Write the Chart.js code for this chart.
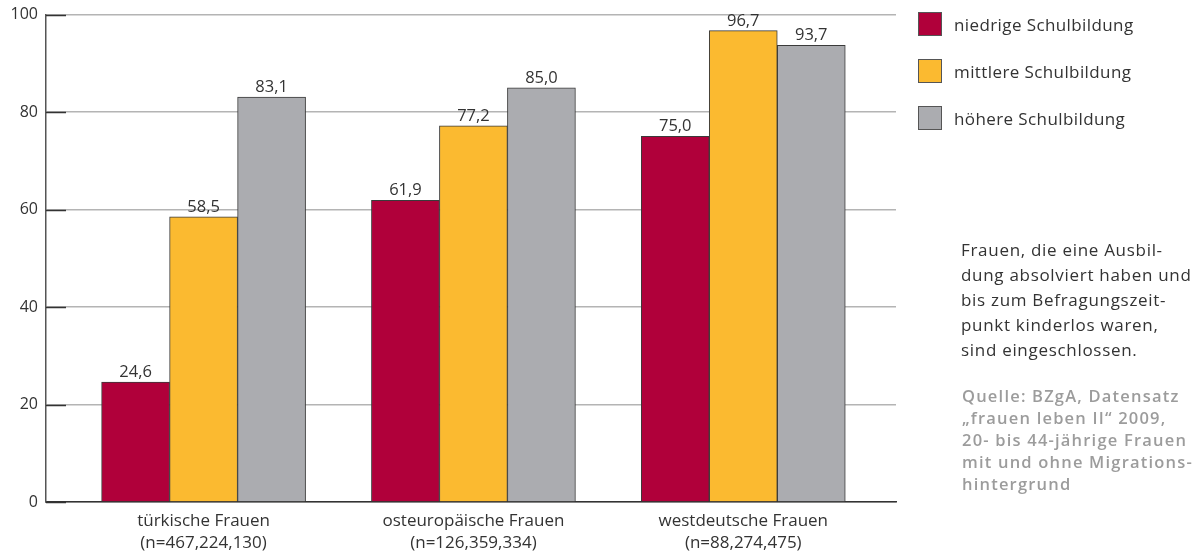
<!DOCTYPE html>
<html lang="de">
<head>
<meta charset="utf-8">
<script src="https://cdn.jsdelivr.net/npm/chart.js@4.4.1/dist/chart.umd.min.js"></script>
<style>
  html, body { margin: 0; padding: 0; background: #fff; }
  body { width: 1204px; height: 556px; position: relative; overflow: hidden; font-family: "Open Sans", sans-serif; color: #333; }
  #wrap { position: absolute; left: 0; top: -3px; width: 1204px; height: 559px; }
  #legend { position: absolute; left: 918px; top: 12px; }
  .item { display: flex; align-items: center; height: 24px; margin-bottom: 23px; font-size: 17px; letter-spacing: 0.4px; color: #333; }
  .swatch { width: 22px; height: 22px; border: 1px solid #555; margin-right: 12px; }
  #note { position: absolute; left: 961px; top: 237px; font-size: 17px; letter-spacing: 0.7px; line-height: 25px; color: #333; white-space: nowrap; }
  #source { position: absolute; left: 962px; top: 385px; font-size: 16.5px; letter-spacing: 1.2px; line-height: 22px; font-weight: 600; color: #9c9c9c; white-space: nowrap; }
</style>
</head>
<body>
<div id="wrap"><canvas id="chart" width="1204" height="559"></canvas></div>
<div id="legend"></div>
<div id="note">Frauen, die eine Ausbil-<br>dung absolviert haben und<br>bis zum Befragungszeit-<br>punkt kinderlos waren,<br>sind eingeschlossen.</div>
<div id="source">Quelle: BZgA, Datensatz<br>„frauen leben II“ 2009,<br>20- bis 44-jährige Frauen<br>mit und ohne Migrations-<br>hintergrund</div>
<script>
// Groups of women (two-line axis labels)
const groups = [
  ['türkische Frauen', '(n=467,224,130)'],
  ['osteuropäische Frauen', '(n=126,359,334)'],
  ['westdeutsche Frauen', '(n=88,274,475)']
];

// Share per school-education level, in percent
const niedrig = [24.6, 61.9, 75.0];
const mittel  = [58.5, 77.2, 96.7];
const hoeher  = [83.1, 85.0, 93.7];

const seriesNames  = ['niedrige Schulbildung', 'mittlere Schulbildung', 'höhere Schulbildung'];
const seriesColors = ['#B0003A', '#FBBA30', '#ABACB0'];

const yTicks = [0, 20, 40, 60, 80, 100];

const FONT = '"Open Sans", sans-serif';

// Legend
const legendEl = document.getElementById('legend');
seriesNames.forEach((name, i) => {
  const row = document.createElement('div');
  row.className = 'item';
  const sw = document.createElement('div');
  sw.className = 'swatch';
  sw.style.background = seriesColors[i];
  const tx = document.createElement('span');
  tx.textContent = name;
  row.appendChild(sw);
  row.appendChild(tx);
  legendEl.appendChild(row);
});

const seriesValues = [niedrig, mittel, hoeher];
const datasets = seriesValues.map((vals, i) => ({
  label: seriesNames[i],
  data: vals.map((v, j) => ({ x: j, y: v })),
  backgroundColor: seriesColors[i],
  borderColor: '#3a3a3a',
  borderWidth: 1,
  barThickness: 68
}));

// Values above bars, German decimal comma
const valueLabels = {
  id: 'valueLabels',
  afterDatasetsDraw(chart) {
    const ctx = chart.ctx;
    ctx.save();
    ctx.font = '16.5px ' + FONT;
    ctx.fillStyle = '#333';
    ctx.textAlign = 'center';
    ctx.textBaseline = 'alphabetic';
    chart.data.datasets.forEach((ds, di) => {
      chart.getDatasetMeta(di).data.forEach((bar, i) => {
        const v = ds.data[i].y;
        ctx.fillText(v.toFixed(1).replace('.', ','), bar.x, bar.y - 5);
      });
    });
    ctx.restore();
  }
};

// Short dark tick marks on the inner side of the value axis
const innerTicks = {
  id: 'innerTicks',
  afterDraw(chart) {
    const ctx = chart.ctx;
    const y = chart.scales.y;
    const left = chart.chartArea.left;
    ctx.save();
    ctx.strokeStyle = '#333';
    ctx.lineWidth = 1.5;
    yTicks.forEach(t => {
      const py = Math.round(y.getPixelForValue(t)) + 0.5;
      ctx.beginPath();
      ctx.moveTo(left, py);
      ctx.lineTo(left + 20, py);
      ctx.stroke();
    });
    ctx.restore();
  }
};

new Chart(document.getElementById('chart'), {
  type: 'bar',
  data: { datasets },
  options: {
    responsive: false,
    animation: false,
    layout: { padding: { top: 11, right: 308, left: 0, bottom: 0 } },
    plugins: { legend: { display: false }, tooltip: { enabled: false } },
    scales: {
      x: {
        type: 'linear',
        min: -0.584,
        max: 2.566,
        offset: false,
        afterBuildTicks(scale) { scale.ticks = groups.map((g, i) => ({ value: i })); },
        afterFit(scale) { scale.height = 54; },
        grid: { display: false, drawTicks: false },
        border: { display: true, color: '#333', width: 1.5 },
        ticks: {
          padding: 8,
          color: '#333',
          font: { family: FONT, size: 17, lineHeight: 1.3 },
          maxRotation: 0,
          autoSkip: false,
          callback: (v) => groups[v]
        }
      },
      y: {
        min: 0,
        max: 100,
        afterBuildTicks(scale) { scale.ticks = yTicks.map(v => ({ value: v })); },
        afterFit(scale) { scale.width = 46; },
        grid: { color: '#b4b4b4', lineWidth: 1.5, drawTicks: false },
        border: { display: true, color: '#555', width: 1.5 },
        ticks: {
          padding: 8,
          color: '#333',
          font: { family: FONT, size: 16 }
        }
      }
    }
  },
  plugins: [valueLabels, innerTicks]
});
</script>
</body>
</html>
